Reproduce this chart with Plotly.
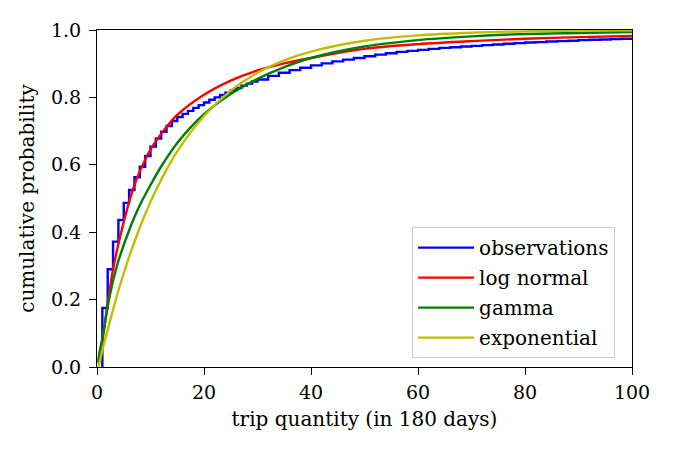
import plotly.graph_objects as go

# observed empirical CDF (step values at integer trip counts)
obs_x = list(range(1, 31)) + list(range(32, 101, 2))
obs_y = [0.175, 0.29, 0.372, 0.436, 0.487, 0.525, 0.563, 0.594, 0.626, 0.654,
         0.678, 0.698, 0.715, 0.73, 0.742, 0.751, 0.760, 0.769, 0.777, 0.785,
         0.793, 0.800, 0.807, 0.814, 0.821, 0.828, 0.835, 0.841, 0.847, 0.853,
         0.864, 0.873, 0.881, 0.888, 0.895, 0.901, 0.907, 0.912, 0.917, 0.922,
         0.927, 0.931, 0.935, 0.938, 0.941, 0.944, 0.947, 0.949, 0.951, 0.953,
         0.955, 0.957, 0.959, 0.961, 0.963, 0.964, 0.966, 0.967, 0.968, 0.970,
         0.971, 0.972, 0.973, 0.974, 0.975, 0.976, 0.977, 0.978]

fit_x_ln = [0.3, 0.5, 1, 2, 3, 4, 5, 6, 7, 8, 10, 12, 15, 20, 25, 30, 35, 40, 50, 60, 70, 80, 90, 100]
lognorm_y = [0.01, 0.025, 0.075, 0.19, 0.29, 0.365, 0.43, 0.49, 0.54, 0.58, 0.645, 0.692,
             0.748, 0.808, 0.85, 0.88, 0.901, 0.917, 0.944, 0.958, 0.967, 0.974, 0.979, 0.982]

fit_x_g = [0.2, 0.5, 1, 1.5, 2, 3, 4, 5, 6, 7, 8, 10, 12, 15, 20, 25, 30, 35, 40, 50, 60, 70, 80, 90, 100]
gamma_y = [0.015, 0.045, 0.085, 0.13, 0.18, 0.255, 0.315, 0.362, 0.405, 0.445, 0.48, 0.54,
           0.595, 0.665, 0.75, 0.81, 0.855, 0.89, 0.917, 0.951, 0.97, 0.981, 0.988, 0.991, 0.994]

fit_x_e = [0.3, 1, 2, 3, 4, 5, 6, 8, 10, 12, 15, 20, 25, 30, 35, 40, 50, 60, 70, 80, 90, 100]
expon_y = [0.0, 0.05, 0.11, 0.17, 0.227, 0.278, 0.327, 0.414, 0.49, 0.556, 0.64, 0.745,
           0.82, 0.873, 0.91, 0.936, 0.968, 0.984, 0.992, 0.996, 0.998, 0.999]

x_ticks = [0, 20, 40, 60, 80, 100]
y_ticks = [0.0, 0.2, 0.4, 0.6, 0.8, 1.0]

FONT = "DejaVu Serif"
LW = 2.4

fig = go.Figure()
fig.add_trace(go.Scatter(x=[obs_x[0]] + obs_x, y=[0] + obs_y, mode="lines",
                         line=dict(color="#0000ff", width=LW, shape="hv"),
                         name="observations", legendgroup="a"))
fig.add_trace(go.Scatter(x=fit_x_ln, y=lognorm_y, mode="lines",
                         line=dict(color="#ff0000", width=LW, shape="spline", smoothing=0.9),
                         name="log normal", legendgroup="b"))
fig.add_trace(go.Scatter(x=fit_x_g, y=gamma_y, mode="lines",
                         line=dict(color="#008000", width=LW, shape="spline", smoothing=0.8),
                         name="gamma", legendgroup="c"))
fig.add_trace(go.Scatter(x=fit_x_e, y=expon_y, mode="lines",
                         line=dict(color="#bfbf00", width=LW, shape="spline", smoothing=0.8),
                         name="exponential", legendgroup="d"))

axis_common = dict(showline=True, linecolor="black", linewidth=1.2, mirror=True,
                   ticks="outside", ticklen=7, tickwidth=1.2, tickcolor="black",
                   showgrid=False, zeroline=False,
                   tickfont=dict(family=FONT, size=19, color="black"))

fig.update_xaxes(range=[0, 100], tickvals=x_ticks, ticktext=[str(v) for v in x_ticks],
                 ticklabelstandoff=1,
                 title=dict(text="trip quantity (in 180 days)", font=dict(family=FONT, size=20, color="black"),
                            standoff=10),
                 **axis_common)
fig.update_yaxes(range=[0, 1], tickvals=y_ticks, ticktext=[f"{v:.1f}" for v in y_ticks],
                 ticklabelstandoff=4,
                 title=dict(text="cumulative probability", font=dict(family=FONT, size=20, color="black"),
                            standoff=10),
                 **axis_common)

fig.update_layout(
    width=675, height=450,
    margin=dict(l=97, r=43, t=30, b=83),
    plot_bgcolor="white", paper_bgcolor="white",
    font=dict(family=FONT, size=20, color="black"),
    legend=dict(x=0.589, y=0.415, xanchor="left", yanchor="top",
                bgcolor="rgba(255,255,255,0.8)", bordercolor="#cccccc", borderwidth=1,
                font=dict(family=FONT, size=20, color="black"),
                itemwidth=56,
                traceorder="grouped", tracegroupgap=1),
    showlegend=True,
)

fig.write_html("out.html")
